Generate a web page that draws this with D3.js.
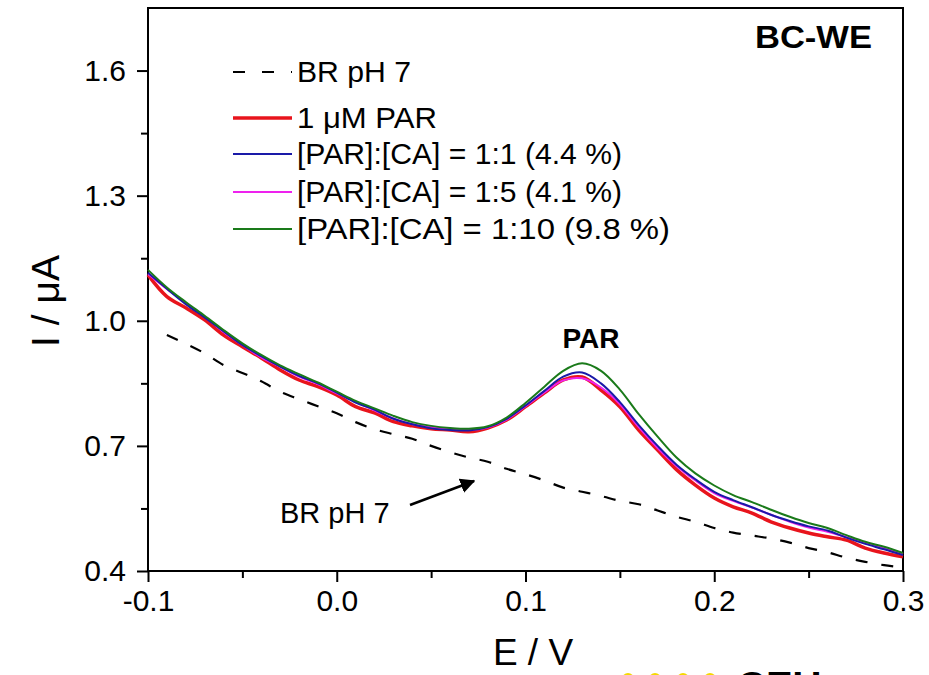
<meta charset="utf-8">
<html>
<head>
<style>
  body { margin: 0; background: #fff; }
  text { font-family: Arial, "Liberation Sans", sans-serif; }
</style>
</head>
<body>
<div id="chart"></div>
<script src="https://d3js.org/d3.v7.min.js"></script>
<script>
// potential (V) shared by the measured curves
var potential = [-0.10,-0.09,-0.08,-0.07,-0.06,-0.05,-0.04,-0.03,-0.02,-0.01,
                 0.00,0.01,0.02,0.03,0.04,0.05,0.06,0.07,0.08,0.09,
                 0.10,0.11,0.12,0.13,0.14,0.15,0.16,0.17,0.18,0.19,
                 0.20,0.21,0.22,0.23,0.24,0.25,0.26,0.27,0.28,0.29,0.30];

// current (uA)
var brBlank = [null,0.966,0.945,0.922,0.894,0.875,0.855,0.830,0.812,0.795,
               0.778,0.757,0.740,0.728,0.717,0.700,0.685,0.672,0.662,0.645,
               0.632,0.617,0.600,0.590,0.580,0.568,0.560,0.545,0.530,0.518,
               0.503,0.492,0.485,0.478,0.468,0.455,0.445,0.432,0.422,0.414,0.408];
var par1uM = [1.110,1.058,1.031,1.002,0.966,0.938,0.911,0.882,0.858,0.842,
              0.822,0.794,0.779,0.758,0.748,0.741,0.738,0.734,0.743,0.762,
              0.794,0.827,0.858,0.865,0.834,0.794,0.738,0.690,0.643,0.606,
              0.575,0.554,0.539,0.518,0.503,0.491,0.482,0.474,0.455,0.443,0.434];
var ratio1_1 = [1.115,1.077,1.040,1.008,0.975,0.942,0.915,0.890,0.868,0.850,
                0.828,0.804,0.787,0.765,0.752,0.742,0.738,0.737,0.745,0.765,
                0.797,0.832,0.866,0.876,0.850,0.805,0.750,0.700,0.655,0.620,
                0.590,0.570,0.553,0.535,0.520,0.507,0.497,0.480,0.465,0.452,0.438];
var ratio1_5 = [1.112,1.076,1.042,1.010,0.973,0.942,0.912,0.890,0.866,0.848,
                0.826,0.806,0.785,0.766,0.752,0.745,0.742,0.738,0.744,0.763,
                0.795,0.828,0.857,0.862,0.840,0.800,0.745,0.695,0.652,0.617,
                0.587,0.568,0.552,0.535,0.518,0.504,0.494,0.481,0.467,0.454,0.440];
var ratio1_10 = [1.122,1.080,1.045,1.012,0.978,0.946,0.918,0.893,0.872,0.852,
                 0.830,0.808,0.790,0.772,0.757,0.748,0.743,0.741,0.747,0.768,
                 0.803,0.842,0.880,0.898,0.880,0.835,0.776,0.722,0.672,0.634,
                 0.605,0.582,0.565,0.547,0.530,0.515,0.503,0.486,0.470,0.458,0.443];

var seriesNames = ["BR pH 7", "1 \u03bcM PAR", "[PAR]:[CA] = 1:1 (4.4 %)",
                   "[PAR]:[CA] = 1:5 (4.1 %)", "[PAR]:[CA] = 1:10 (9.8 %)"];
var seriesValues = [brBlank, par1uM, ratio1_1, ratio1_5, ratio1_10];
var seriesColors = ["#000000", "#e8141c", "#1a1aa8", "#ee22ee", "#1a7a1a"];

var xTicks = [-0.1, 0.0, 0.1, 0.2, 0.3];
var yTicks = [0.4, 0.7, 1.0, 1.3, 1.6];

var W = 929, H = 675;
var margin = {top: 8, right: 26, bottom: 104, left: 148},
    width = W - margin.left - margin.right,
    height = H - margin.top - margin.bottom;

var svg = d3.select("#chart").append("svg")
    .attr("width", W).attr("height", H);
var g = svg.append("g")
    .attr("transform", "translate(" + margin.left + "," + margin.top + ")");

var x = d3.scaleLinear().domain([-0.1, 0.3]).range([0, width]);
var y = d3.scaleLinear().domain([0.4, 1.75]).range([height, 0]);

// plain hyphen for negatives, like the original
var fmt = function(d) { return d.toFixed(1); };

// frame
g.append("rect").attr("width", width).attr("height", height)
  .attr("fill", "none").attr("stroke", "#000").attr("stroke-width", 2);

// minor ticks
g.append("g").attr("transform", "translate(0," + height + ")")
  .call(d3.axisBottom(x).tickValues([-0.05, 0.05, 0.15, 0.25]).tickSize(7).tickFormat(""))
  .call(function(a) { a.select(".domain").remove(); a.selectAll("line").attr("stroke-width", 2); });
g.append("g")
  .call(d3.axisLeft(y).tickValues([0.55, 0.85, 1.15, 1.45]).tickSize(7).tickFormat(""))
  .call(function(a) { a.select(".domain").remove(); a.selectAll("line").attr("stroke-width", 2); });

// major ticks
g.append("g").attr("transform", "translate(0," + height + ")")
  .call(d3.axisBottom(x).tickValues(xTicks).tickSize(11).tickPadding(8).tickFormat(fmt))
  .call(function(a) {
    a.select(".domain").remove();
    a.selectAll("line").attr("stroke-width", 2);
    a.selectAll("text").attr("font-size", 30).attr("fill", "#000")
      .style("font-family", "Arial, 'Liberation Sans', sans-serif");
  });
g.append("g")
  .call(d3.axisLeft(y).tickValues(yTicks).tickSize(11).tickPadding(11).tickFormat(fmt))
  .call(function(a) {
    a.select(".domain").remove();
    a.selectAll("line").attr("stroke-width", 2);
    a.selectAll("text").attr("font-size", 30).attr("fill", "#000")
      .style("font-family", "Arial, 'Liberation Sans', sans-serif");
  });

// curves
var line = d3.line()
    .defined(function(d) { return d[1] !== null; })
    .curve(d3.curveCatmullRom)
    .x(function(d) { return x(d[0]); })
    .y(function(d) { return y(d[1]); });

var drawOrder = [0, 1, 3, 2, 4];
drawOrder.forEach(function(i) {
  var pts = potential.map(function(p, k) { return [p, seriesValues[i][k]]; });
  g.append("path").datum(pts)
    .attr("fill", "none")
    .attr("stroke", seriesColors[i])
    .attr("stroke-width", i === 0 ? 2.2 : (i === 1 ? 3.5 : 2))
    .attr("stroke-dasharray", i === 0 ? "12,14" : null)
    .attr("stroke-linejoin", "round")
    .attr("d", line);
});

// legend (text widths stretched to the original's wider type)
var legendRows = [72, 118, 154, 192, 229];
var legendWidths = [114, 140, 325, 325, 373];
seriesNames.forEach(function(name, i) {
  var ly = legendRows[i];
  g.append("line")
    .attr("x1", 233 - margin.left).attr("x2", 292 - margin.left)
    .attr("y1", ly - margin.top).attr("y2", ly - margin.top)
    .attr("stroke", seriesColors[i])
    .attr("stroke-width", i === 0 ? 2.2 : (i === 1 ? 3.5 : 2))
    .attr("stroke-dasharray", i === 0 ? "12,17" : null);
  g.append("text")
    .attr("x", 297 - margin.left).attr("y", ly - margin.top + 10)
    .attr("font-size", 29)
    .attr("textLength", legendWidths[i])
    .attr("lengthAdjust", "spacingAndGlyphs")
    .text(name);
});

// labels
g.append("text").attr("x", 872 - margin.left).attr("y", 48 - margin.top)
  .attr("text-anchor", "end").attr("font-size", 31).attr("font-weight", "bold")
  .attr("textLength", 117).attr("lengthAdjust", "spacingAndGlyphs").text("BC-WE");
g.append("text").attr("x", 591 - margin.left).attr("y", 348 - margin.top)
  .attr("text-anchor", "middle").attr("font-size", 28).attr("font-weight", "bold").text("PAR");
g.append("text").attr("x", 280 - margin.left).attr("y", 523 - margin.top)
  .attr("font-size", 29).text("BR pH 7");

// arrow to the blank curve
svg.append("defs").append("marker")
  .attr("id", "head").attr("viewBox", "0 0 10 10")
  .attr("refX", 9).attr("refY", 5)
  .attr("markerWidth", 6).attr("markerHeight", 6)
  .attr("markerUnits", "strokeWidth")
  .attr("orient", "auto")
  .append("path").attr("d", "M0,0 L10,5 L0,10 z").attr("fill", "#000");
g.append("line")
  .attr("x1", 410 - margin.left).attr("y1", 505 - margin.top)
  .attr("x2", 474 - margin.left).attr("y2", 481 - margin.top)
  .attr("stroke", "#000").attr("stroke-width", 2.5)
  .attr("marker-end", "url(#head)");

// axis titles
svg.append("text").attr("x", 533).attr("y", 665)
  .attr("text-anchor", "middle").attr("font-size", 37).text("E / V");
svg.append("text")
  .attr("transform", "translate(59," + 301 + ") rotate(-90)")
  .attr("text-anchor", "middle").attr("font-size", 39).text("I / \u03bcA");

// partial watermark at bottom edge
[628, 655, 683, 710].forEach(function(cx) {
  svg.append("circle").attr("cx", cx).attr("cy", 679).attr("r", 6).attr("fill", "#f5d800");
});
svg.append("text").attr("x", 737).attr("y", 700)
  .attr("font-size", 40).attr("font-weight", "bold").text("CEU");
</script>
</body>
</html>
